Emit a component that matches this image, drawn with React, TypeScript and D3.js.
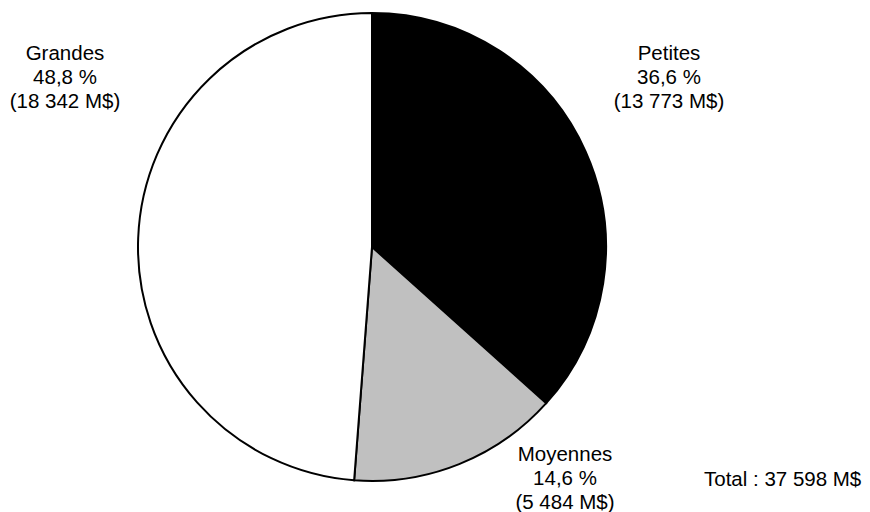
import React from "react";
import { pie, arc } from "d3";

const categories = ["Petites", "Moyennes", "Grandes"];
const percents = ["36,6 %", "14,6 %", "48,8 %"];
const amounts = ["(13 773 M$)", "(5 484 M$)", "(18 342 M$)"];
const values = [13773, 5484, 18342];
const colors = ["#000000", "#c0c0c0", "#ffffff"];
const totalLabel = "Total : 37 598 M$";

// label anchor (center x, first baseline y) for each slice
const labelPos = [
  { x: 669, y: 60 },
  { x: 565, y: 461 },
  { x: 65, y: 60 },
];

const width = 870;
const height = 512;
const cx = 372;
const cy = 247;
const radius = 234;

export default function App() {
  const arcs = pie<number>().sort(null).value((d) => d)(values);
  const arcGen = arc<any>().innerRadius(0).outerRadius(radius);
  const font = { fontFamily: "'Liberation Sans', Arial, sans-serif", fontSize: 20.5 };

  return (
    <svg
      width={width}
      height={height}
      style={{ position: "absolute", left: 0, top: 0, background: "#fff" }}
    >
      <g transform={`translate(${cx},${cy})`}>
        {arcs.map((a, i) => (
          <path
            key={categories[i]}
            d={arcGen(a) as string}
            fill={colors[i]}
            stroke="#000"
            strokeWidth={2}
          />
        ))}
      </g>
      {categories.map((c, i) => (
        <text key={c} textAnchor="middle" fill="#000" style={font}>
          <tspan x={labelPos[i].x} y={labelPos[i].y}>{c}</tspan>
          <tspan x={labelPos[i].x} y={labelPos[i].y + 24}>{percents[i]}</tspan>
          <tspan x={labelPos[i].x} y={labelPos[i].y + 48}>{amounts[i]}</tspan>
        </text>
      ))}
      <text x={704} y={486} fill="#000" style={font}>
        {totalLabel}
      </text>
    </svg>
  );
}
